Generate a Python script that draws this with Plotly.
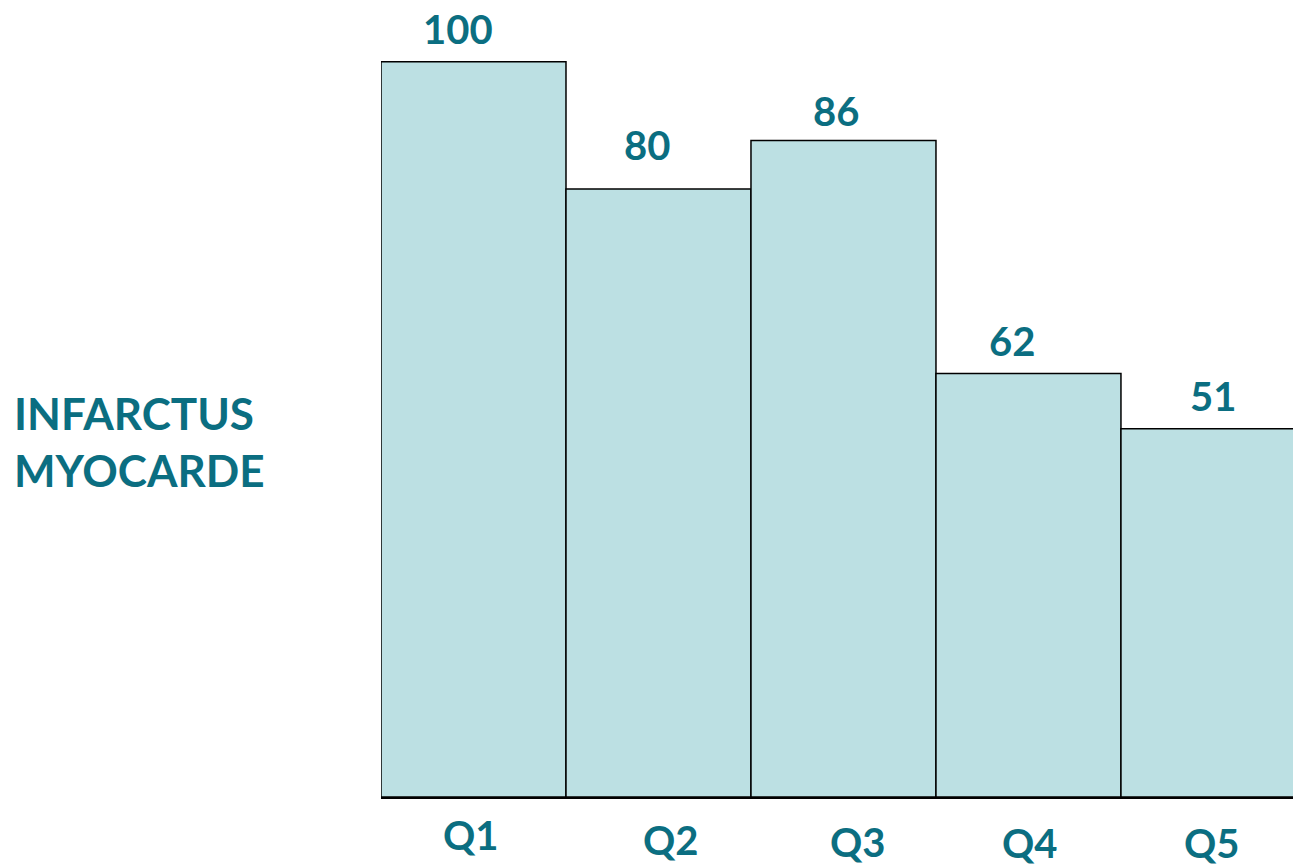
import plotly.graph_objects as go

categories = ["Q1", "Q2", "Q3", "Q4", "Q5"]
bar_heights = [100, 82.7, 89.3, 57.6, 50.1]
value_labels = ["100", "80", "86", "62", "51"]

TEAL = "#0b6e81"
FONT = "Lato"

fig = go.Figure(go.Bar(
    x=list(range(len(categories))),
    y=bar_heights,
    width=1,
    marker={"color": "#bce0e3", "line": {"color": "black", "width": 1.5}},
    hoverinfo="skip",
))

# value labels above the bars (small hand offsets like the original slide)
label_shift = [(-15, -9), (-11, 2), (-7, -13), (-16, -9), (0, -9)]
for i, txt in enumerate(value_labels):
    fig.add_annotation(
        x=i, y=bar_heights[i], text=txt, showarrow=False,
        yanchor="bottom", xshift=label_shift[i][0], yshift=16 + label_shift[i][1],
        font={"size": 40, "color": TEAL, "family": FONT, "weight": "bold"},
    )

# category labels under the axis
cat_shift = [(-2, -38), (13, -43), (15, -45), (2, -46), (-1, -46)]
for i, cat in enumerate(categories):
    fig.add_annotation(
        x=i, y=0, text=cat, showarrow=False, yanchor="middle",
        xshift=cat_shift[i][0], yshift=cat_shift[i][1],
        font={"size": 40, "color": TEAL, "family": FONT, "weight": "bold"},
    )

fig.add_annotation(
    xref="paper", yref="paper", x=0, y=0.446, xanchor="left", yanchor="middle",
    xshift=-369, align="left", showarrow=False,
    text="INFARCTUS<br>MYOCARDE",
    font={"size": 44, "color": TEAL, "family": FONT, "weight": "bold"},
)

fig.update_layout(
    width=1293, height=867,
    margin={"l": 381, "r": 0, "t": 0, "b": 70},
    plot_bgcolor="white", paper_bgcolor="white",
    showlegend=False,
    xaxis={"range": [-0.5, 4.43], "showticklabels": False, "showgrid": False,
           "zeroline": False, "showline": True, "linecolor": "black", "linewidth": 2,
           "ticks": ""},
    yaxis={"range": [0, 108.4], "visible": False},
)

fig.write_html("out.html", config={"displayModeBar": False},
               post_script="document.body.style.margin='0';")
